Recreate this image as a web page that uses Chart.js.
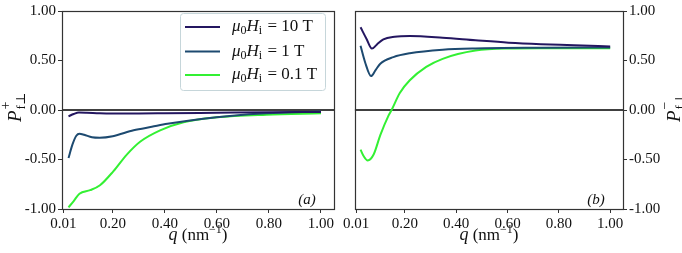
<!DOCTYPE html>
<html><head><meta charset="utf-8">
<script src="https://cdn.jsdelivr.net/npm/chart.js@4/dist/chart.umd.min.js"></script>
<style>
html,body{margin:0;padding:0;background:#fff;width:682px;height:253px;overflow:hidden}
.p{position:absolute;top:0;height:253px}
</style></head><body>
<div class="p" style="left:0;width:341px"><canvas id="ca" width="341" height="253"></canvas></div>
<div class="p" style="left:341px;width:341px"><canvas id="cb" width="341" height="253"></canvas></div>
<script>
// ---- data ----
const seriesLabels = ['10 T', '1 T', '0.1 T'];
const xTicks = [0.01, 0.2, 0.4, 0.6, 0.8, 1.0];
const yTicks = [-1, -0.5, 0, 0.5, 1];

// panel (a): P+
const q10a = [0.03, 0.05, 0.07, 0.1, 0.15, 0.2, 0.3, 0.4, 0.6, 0.8, 1.0];
const p10a = [-0.064, -0.04, -0.025, -0.027, -0.033, -0.035, -0.035, -0.033, -0.028, -0.023, -0.02];
const q1a  = [0.03, 0.045, 0.06, 0.072, 0.09, 0.12, 0.15, 0.2, 0.28, 0.35, 0.41, 0.54, 0.66, 0.79, 1.0];
const p1a  = [-0.485, -0.35, -0.26, -0.24, -0.25, -0.275, -0.28, -0.265, -0.205, -0.17, -0.14, -0.09, -0.057, -0.034, -0.015];
const q01a = [0.03, 0.05, 0.072, 0.113, 0.151, 0.202, 0.254, 0.305, 0.382, 0.472, 0.6, 0.79, 1.0];
const p01a = [-0.983, -0.92, -0.845, -0.81, -0.76, -0.62, -0.45, -0.32, -0.205, -0.123, -0.074, -0.047, -0.034];

// panel (b): P-
const q10b = [0.027, 0.05, 0.0715, 0.09, 0.116, 0.16, 0.219, 0.347, 0.475, 0.604, 0.73, 0.86, 1.0];
const p10b = [0.836, 0.72, 0.62, 0.66, 0.714, 0.74, 0.747, 0.73, 0.704, 0.68, 0.665, 0.655, 0.642];
const q1b  = [0.027, 0.045, 0.068, 0.085, 0.104, 0.155, 0.219, 0.347, 0.475, 0.73, 1.0];
const p1b  = [0.648, 0.48, 0.343, 0.40, 0.468, 0.534, 0.573, 0.609, 0.622, 0.629, 0.632];
const q01b = [0.027, 0.04, 0.055, 0.078, 0.104, 0.136, 0.148, 0.18, 0.219, 0.283, 0.347, 0.475, 0.604, 0.73, 1.0];
const p01b = [-0.40, -0.47, -0.51, -0.45, -0.254, -0.057, 0.0, 0.172, 0.30, 0.435, 0.517, 0.60, 0.622, 0.625, 0.625];

const colors = ['#241660', '#1d4a70', '#33f033'];
const SERIF = '"Liberation Serif","DejaVu Serif",serif';

function pts(q, p){ return q.map((x,i)=>({x:x, y:p[i]})); }
function ds(q,p,c,l){ return {label:l, data:pts(q,p), borderColor:c, backgroundColor:c, borderWidth:2,
  pointRadius:0, cubicInterpolationMode:'monotone', fill:false}; }

const framePlugin = {
  id:'frame',
  beforeDatasetsDraw(chart){
    const {ctx, chartArea:a, scales} = chart;
    const y0 = scales.y.getPixelForValue(0);
    ctx.save();
    ctx.strokeStyle = '#000'; ctx.lineWidth = 1.3;
    ctx.beginPath(); ctx.moveTo(a.left, y0); ctx.lineTo(a.right, y0); ctx.stroke();
    ctx.restore();
  },
  afterDraw(chart, args, opts){
    const {ctx, chartArea:a} = chart;
    ctx.save();
    ctx.strokeStyle = '#333'; ctx.lineWidth = 1.2;
    ctx.strokeRect(Math.round(a.left)+0.5, Math.round(a.top)+0.5, Math.round(a.right-a.left), Math.round(a.bottom-a.top));
    ctx.fillStyle = '#111';
    // panel label
    ctx.font = 'italic 15px ' + SERIF;
    ctx.textAlign = 'center'; ctx.textBaseline = 'middle';
    ctx.fillText(opts.panel, a.right - 27, a.bottom - 9);
    // x title: q (nm^-1)
    ctx.textAlign = 'left'; ctx.textBaseline = 'alphabetic';
    const parts = [['italic 18px ', 'q', 0], ['17px ', ' (nm', 0], ['12px ', '\u22121', -7], ['17px ', ')', 0]];
    let tw = 0;
    parts.forEach(p=>{ ctx.font = p[0]+SERIF; tw += ctx.measureText(p[1]).width; });
    let tx = (a.left + a.right)/2 - tw/2;
    parts.forEach(p=>{ ctx.font = p[0]+SERIF; ctx.fillText(p[1], tx, 240 + p[2]); tx += ctx.measureText(p[1]).width; });
    // y title
    ctx.translate(opts.titleX, (a.top + a.bottom)/2);
    ctx.rotate(-Math.PI/2);
    ctx.font = 'italic 19px ' + SERIF;
    const wP = ctx.measureText('P').width;
    const x0 = -12;
    ctx.fillText('P', x0, 6);
    ctx.font = '14px ' + SERIF;
    ctx.fillText(opts.sign, x0 + wP + 1, -5);
    ctx.font = '13px ' + SERIF;
    ctx.fillText('f\u22A5', x0 + wP + 1, 10);
    ctx.restore();
  }
};

const legendPlugin = {
  id:'mylegend',
  afterDraw(chart, args, opts){
    if(!opts.show) return;
    const ctx = chart.ctx;
    ctx.save();
    const bx=180, by=13, bw=145, bh=77;
    ctx.fillStyle='rgba(255,255,255,0.85)';
    ctx.strokeStyle='#c6d6da'; ctx.lineWidth=1;
    ctx.beginPath();
    if(ctx.roundRect) ctx.roundRect(bx+0.5,by+0.5,bw,bh,3); else ctx.rect(bx+0.5,by+0.5,bw,bh);
    ctx.fill(); ctx.stroke();
    const rows=[27,51.5,75];
    chart.data.datasets.forEach((d,i)=>{
      const y=rows[i];
      ctx.strokeStyle=d.borderColor; ctx.lineWidth=2;
      ctx.beginPath(); ctx.moveTo(185,y); ctx.lineTo(220,y); ctx.stroke();
      ctx.fillStyle='#111'; ctx.textBaseline='middle'; ctx.textAlign='left';
      let x=232;
      ctx.font='italic 17px '+SERIF; ctx.fillText('\u03BC',x,y); x+=ctx.measureText('\u03BC').width;
      ctx.font='12px '+SERIF; ctx.fillText('0',x,y+4); x+=ctx.measureText('0').width;
      ctx.font='italic 17px '+SERIF; ctx.fillText('H',x,y); x+=ctx.measureText('H').width;
      ctx.font='12px '+SERIF; ctx.fillText('i',x,y+4); x+=ctx.measureText('i').width+1;
      ctx.font='17px '+SERIF; ctx.fillText(' = '+d.label,x,y);
    });
    ctx.restore();
  }
};

function makeChart(id, sets, side, opts){
  return new Chart(document.getElementById(id), {
    type:'line',
    data:{datasets:sets},
    plugins:[framePlugin, legendPlugin],
    options:{
      responsive:false, animation:false, devicePixelRatio:1,
      layout:{padding:opts.padding},
      plugins:{legend:{display:false}, tooltip:{enabled:false},
        frame:{panel:opts.panel, sign:opts.sign, titleX:opts.titleX},
        mylegend:{show:opts.legend}},
      scales:{
        x:{type:'linear', min:0.005, max:1.05,
          afterBuildTicks(s){ s.ticks = xTicks.map(v=>({value:v})); },
          afterFit(s){ s.height = 44; },
          ticks:{font:{family:SERIF,size:15}, color:'#111', padding:2, maxRotation:0,
            callback:(v)=>Number(v).toFixed(2)},
          grid:{drawOnChartArea:false, color:'#333', tickLength:4, tickWidth:1},
          border:{display:false}
        },
        y:{type:'linear', position:side, min:-1, max:1,
          afterBuildTicks(s){ s.ticks = yTicks.map(v=>({value:v})); },
          afterFit(s){ s.width = opts.yWidth; },
          ticks:{font:{family:SERIF,size:15}, color:'#111', padding:2,
            callback:(v)=>Number(v).toFixed(2)},
          grid:{drawOnChartArea:false, color:'#333', tickLength:4, tickWidth:1},
          border:{display:false}
        }
      }
    }
  });
}

makeChart('ca', [ds(q10a,p10a,colors[0],seriesLabels[0]), ds(q1a,p1a,colors[1],seriesLabels[1]), ds(q01a,p01a,colors[2],seriesLabels[2])],
  'left', {padding:{top:6,right:7,bottom:0,left:0}, yWidth:62, panel:'(a)', sign:'+', titleX:15, legend:true});
makeChart('cb', [ds(q10b,p10b,colors[0],seriesLabels[0]), ds(q1b,p1b,colors[1],seriesLabels[1]), ds(q01b,p01b,colors[2],seriesLabels[2])],
  'right', {padding:{top:6,right:0,bottom:0,left:11}, yWidth:59, panel:'(b)', sign:'\u2212', titleX:333, legend:false});
</script>
</body></html>
